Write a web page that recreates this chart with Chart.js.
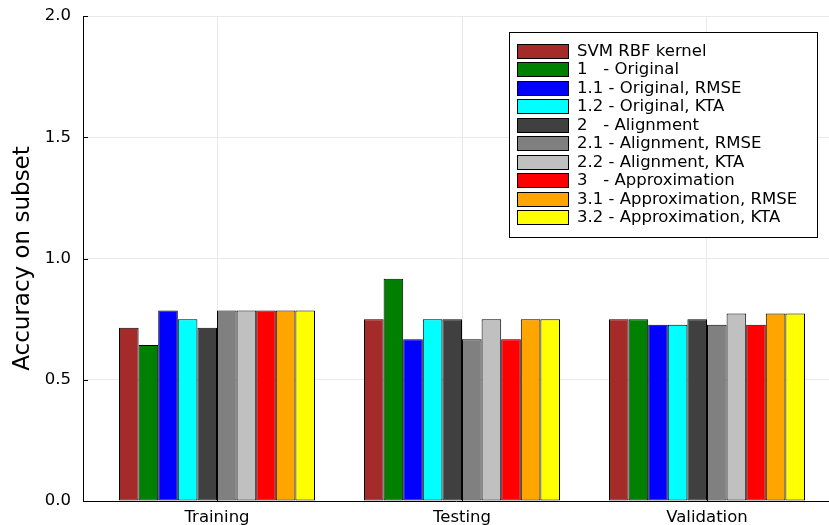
<!DOCTYPE html>
<html><head><meta charset="utf-8">
<script src="https://cdn.jsdelivr.net/npm/chart.js@4.4.0/dist/chart.umd.min.js"></script>
<style>html,body{margin:0;padding:0;background:#fff;overflow:hidden}#wrap{width:829px;height:525px;position:relative}</style>
</head><body><div id="wrap"><canvas id="c" width="829" height="525"></canvas></div>
<script>
const categories = ["Training", "Testing", "Validation"];
const seriesNames = ["SVM RBF kernel", "1   - Original", "1.1 - Original, RMSE", "1.2 - Original, KTA",
  "2   - Alignment", "2.1 - Alignment, RMSE", "2.2 - Alignment, KTA",
  "3   - Approximation", "3.1 - Approximation, RMSE", "3.2 - Approximation, KTA"];
const svmRbf     = [0.714, 0.750, 0.750];
const original   = [0.643, 0.917, 0.750];
const origRmse   = [0.786, 0.667, 0.727];
const origKta    = [0.750, 0.750, 0.727];
const alignment  = [0.714, 0.750, 0.750];
const alignRmse  = [0.786, 0.667, 0.727];
const alignKta   = [0.786, 0.750, 0.773];
const approx     = [0.786, 0.667, 0.727];
const approxRmse = [0.786, 0.750, 0.773];
const approxKta  = [0.786, 0.750, 0.773];
const yTickValues = [0.0, 0.5, 1.0, 1.5, 2.0];

const seriesValues = [svmRbf, original, origRmse, origKta, alignment, alignRmse, alignKta, approx, approxRmse, approxKta];
const colors = ["#a52a2a", "#008000", "#0000ff", "#00ffff", "#404040", "#808080", "#c0c0c0", "#ff0000", "#ffa500", "#ffff00"];
const FONT = "'DejaVu Sans', sans-serif";

const datasets = seriesNames.map((name, k) => ({
  label: name,
  data: seriesValues[k].map((v, i) => ({ x: i, y: v })),
  backgroundColor: colors[k],
  borderColor: "#000000",
  borderWidth: 1,
  borderSkipped: false,
  categoryPercentage: 0.8,
  barPercentage: 1.0
}));

const legendPlugin = {
  id: "boxLegend",
  afterDraw(chart) {
    const ctx = chart.ctx;
    const x0 = 509.5, y0 = 32.5, w = 308, h = 205;
    ctx.save();
    ctx.fillStyle = "#ffffff";
    ctx.fillRect(x0, y0, w, h);
    ctx.strokeStyle = "#000000";
    ctx.lineWidth = 1;
    ctx.strokeRect(x0, y0, w, h);
    ctx.font = "16.5px " + FONT;
    ctx.textBaseline = "middle";
    chart.data.datasets.forEach((ds, i) => {
      const top = Math.round(44 + i * 18.44);
      ctx.fillStyle = ds.backgroundColor;
      ctx.fillRect(517.5, top + 0.5, 51, 14);
      ctx.strokeStyle = "#000000";
      ctx.strokeRect(517.5, top + 0.5, 51, 14);
      ctx.fillStyle = "#000000";
      ctx.fillText(ds.label, 577, top + 8);
    });
    ctx.restore();
  }
};

const tickMarkPlugin = {
  id: "innerTicks",
  afterDatasetsDraw(chart) {
    const ctx = chart.ctx;
    const ys = chart.scales.y, xs = chart.scales.x;
    const a = chart.chartArea;
    ctx.save();
    ctx.strokeStyle = "#000000";
    ctx.lineWidth = 1;
    ctx.beginPath();
    ys.ticks.forEach(t => {
      const p = Math.round(ys.getPixelForValue(t.value)) + 0.5;
      ctx.moveTo(a.left, p); ctx.lineTo(a.left + 5, p);
    });
    xs.ticks.forEach(t => {
      const p = Math.round(xs.getPixelForValue(t.value)) + 0.5;
      ctx.moveTo(p, a.bottom); ctx.lineTo(p, a.bottom - 5);
    });
    ctx.stroke();
    ctx.restore();
  }
};

new Chart(document.getElementById("c"), {
  type: "bar",
  data: { datasets },
  options: {
    responsive: false,
    animation: false,
    devicePixelRatio: 1,
    layout: { padding: { top: 16, right: 0, bottom: 0, left: 0 } },
    plugins: { legend: { display: false }, tooltip: { enabled: false } },
    scales: {
      x: {
        type: "linear",
        min: -0.547,
        max: 2.498,
        offset: false,
        afterBuildTicks: s => { s.ticks = categories.map((_, i) => ({ value: i })); },
        afterFit: s => { s.height = 24; },
        grid: { color: "#e9e9e9", drawTicks: false, offset: false },
        border: { color: "#000000", width: 1 },
        ticks: {
          autoSkip: false, maxRotation: 0, padding: 7, color: "#000000",
          font: { family: FONT, size: 16.5 },
          callback: v => categories[Math.round(v)]
        }
      },
      y: {
        min: 0, max: 2,
        afterBuildTicks: s => { s.ticks = yTickValues.map(v => ({ value: v })); },
        afterFit: s => { s.width = 83; },
        grid: { color: "#e9e9e9", drawTicks: true, tickLength: 12, tickColor: "rgba(0,0,0,0)" },
        border: { color: "#000000", width: 1 },
        ticks: {
          padding: 0, color: "#000000",
          font: { family: FONT, size: 16.5 },
          callback: v => Number(v).toFixed(1)
        },
        title: {
          display: true, text: "Accuracy on subset", color: "#000000",
          font: { family: FONT, size: 23 }, padding: { top: 9, bottom: 0 }
        }
      }
    }
  },
  plugins: [tickMarkPlugin, legendPlugin]
});
</script></body></html>
